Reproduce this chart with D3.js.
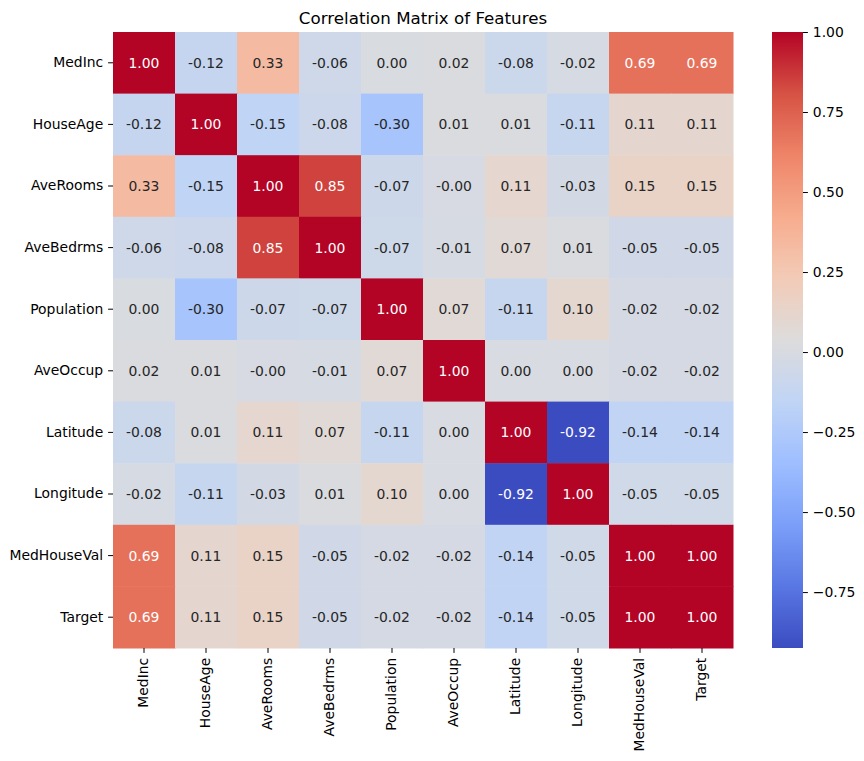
<!DOCTYPE html>
<html>
<head>
<meta charset="utf-8">
<script src="https://cdn.jsdelivr.net/npm/d3@7"></script>
<style>
  html, body { margin: 0; padding: 0; background: #fff; }
  svg { display: block; font-family: "DejaVu Sans", sans-serif; }
</style>
</head>
<body>
<svg id="chart" width="864" height="761"></svg>
<script>
// ---- data ----
const features = ["MedInc", "HouseAge", "AveRooms", "AveBedrms", "Population",
                  "AveOccup", "Latitude", "Longitude", "MedHouseVal", "Target"];
const rowMedInc      = [1.0000, -0.1190, 0.3269, -0.0620, 0.0048, 0.0188, -0.0798, -0.0152, 0.6881, 0.6881];
const rowHouseAge    = [-0.1190, 1.0000, -0.1533, -0.0777, -0.2962, 0.0132, 0.0112, -0.1082, 0.1056, 0.1056];
const rowAveRooms    = [0.3269, -0.1533, 1.0000, 0.8476, -0.0722, -0.0049, 0.1064, -0.0275, 0.1519, 0.1519];
const rowAveBedrms   = [-0.0620, -0.0777, 0.8476, 1.0000, -0.0662, -0.0062, 0.0697, 0.0133, -0.0467, -0.0467];
const rowPopulation  = [0.0048, -0.2962, -0.0722, -0.0662, 1.0000, 0.0699, -0.1088, 0.0998, -0.0246, -0.0246];
const rowAveOccup    = [0.0188, 0.0132, -0.0049, -0.0062, 0.0699, 1.0000, 0.0024, 0.0025, -0.0237, -0.0237];
const rowLatitude    = [-0.0798, 0.0112, 0.1064, 0.0697, -0.1088, 0.0024, 1.0000, -0.9247, -0.1442, -0.1442];
const rowLongitude   = [-0.0152, -0.1082, -0.0275, 0.0133, 0.0998, 0.0025, -0.9247, 1.0000, -0.0460, -0.0460];
const rowMedHouseVal = [0.6881, 0.1056, 0.1519, -0.0467, -0.0246, -0.0237, -0.1442, -0.0460, 1.0000, 1.0000];
const rowTarget      = [0.6881, 0.1056, 0.1519, -0.0467, -0.0246, -0.0237, -0.1442, -0.0460, 1.0000, 1.0000];
const matrix = [rowMedInc, rowHouseAge, rowAveRooms, rowAveBedrms, rowPopulation,
                rowAveOccup, rowLatitude, rowLongitude, rowMedHouseVal, rowTarget];
const colorbarTicks = [-0.75, -0.5, -0.25, 0, 0.25, 0.5, 0.75, 1.0];
const titleText = "Correlation Matrix of Features";

// coolwarm colormap stops (matplotlib, linspace 0..1, 11 stops)
const coolwarmStops = ['#3b4cc0', '#5977e3', '#7b9ff9', '#9ebeff', '#c0d4f5', '#dddcdc',
                       '#f2cbb7', '#f7ac8e', '#ee8468', '#d65244', '#b40426'];

// ---- layout ----
const svg = d3.select("#chart");
const hm = { x0: 113, x1: 733, y0: 32, y1: 648 };
const cb = { x0: 772, x1: 803 };

const flat = matrix.flat();
const vmin = d3.min(flat), vmax = d3.max(flat);

const cmap = d3.scaleLinear()
  .domain(d3.range(coolwarmStops.length).map(i => i / (coolwarmStops.length - 1)))
  .range(coolwarmStops)
  .interpolate(d3.interpolateRgb)
  .clamp(true);
const norm = d3.scaleLinear().domain([vmin, vmax]).range([0, 1]).clamp(true);
const color = v => cmap(norm(v));

const x = d3.scaleBand().domain(features).range([hm.x0, hm.x1]);
const y = d3.scaleBand().domain(features).range([hm.y0, hm.y1]);

function relLum(c) {
  const rgb = d3.rgb(c);
  const f = v => { v /= 255; return v <= 0.03928 ? v / 12.92 : Math.pow((v + 0.055) / 1.055, 2.4); };
  return 0.2126 * f(rgb.r) + 0.7152 * f(rgb.g) + 0.0722 * f(rgb.b);
}

const cells = [];
matrix.forEach((row, i) => row.forEach((v, j) => cells.push({ r: features[i], c: features[j], v })));

svg.append("g").selectAll("rect").data(cells).join("rect")
  .attr("x", d => x(d.c))
  .attr("y", d => y(d.r))
  .attr("width", x.bandwidth() + 0.5)
  .attr("height", y.bandwidth() + 0.5)
  .attr("fill", d => color(d.v));

svg.append("g").selectAll("text").data(cells).join("text")
  .attr("x", d => x(d.c) + x.bandwidth() / 2)
  .attr("y", d => y(d.r) + y.bandwidth() / 2)
  .attr("text-anchor", "middle")
  .attr("dominant-baseline", "central")
  .attr("font-size", "13.9px")
  .attr("fill", d => relLum(color(d.v)) > 0.408 ? "#262626" : "#ffffff")
  .text(d => d.v.toFixed(2));

// axes
const xAxis = svg.append("g")
  .attr("transform", `translate(0,${hm.y1})`)
  .call(d3.axisBottom(x).tickSize(4.9).tickPadding(4.9));
xAxis.select(".domain").remove();
xAxis.selectAll("line").attr("stroke", "#000").attr("stroke-width", 1);
xAxis.selectAll("text")
  .attr("font-size", "13.9px").attr("font-family", "DejaVu Sans, sans-serif").attr("fill", "#000")
  .attr("transform", "rotate(-90)")
  .attr("text-anchor", "end")
  .attr("x", -9.8).attr("y", 0).attr("dy", "0.32em");

const yAxis = svg.append("g")
  .attr("transform", `translate(${hm.x0},0)`)
  .call(d3.axisLeft(y).tickSize(4.9).tickPadding(4.9));
yAxis.select(".domain").remove();
yAxis.selectAll("line").attr("stroke", "#000").attr("stroke-width", 1);
yAxis.selectAll("text")
  .attr("font-size", "13.9px").attr("font-family", "DejaVu Sans, sans-serif").attr("fill", "#000");

// title
svg.append("text")
  .attr("x", (hm.x0 + hm.x1) / 2)
  .attr("y", 24)
  .attr("text-anchor", "middle")
  .attr("font-size", "16.7px")
  .attr("fill", "#000")
  .text(titleText);

// colorbar
const cbScale = d3.scaleLinear().domain([vmin, vmax]).range([hm.y1, hm.y0]);
const defs = svg.append("defs");
const grad = defs.append("linearGradient").attr("id", "cbgrad")
  .attr("x1", 0).attr("y1", 1).attr("x2", 0).attr("y2", 0);
d3.range(0, 1.0001, 0.02).forEach(t => {
  grad.append("stop").attr("offset", t).attr("stop-color", cmap(t));
});
svg.append("rect")
  .attr("x", cb.x0).attr("y", hm.y0)
  .attr("width", cb.x1 - cb.x0).attr("height", hm.y1 - hm.y0)
  .attr("fill", "url(#cbgrad)");

const cbAxis = svg.append("g")
  .attr("transform", `translate(${cb.x1},0)`)
  .call(d3.axisRight(cbScale).tickValues(colorbarTicks).tickSize(4.9).tickPadding(4.9)
        .tickFormat(d3.format(".2f")));
cbAxis.select(".domain").remove();
cbAxis.selectAll("line").attr("stroke", "#000");
cbAxis.selectAll("text")
  .attr("font-size", "13.9px").attr("font-family", "DejaVu Sans, sans-serif").attr("fill", "#000");
</script>
</body>
</html>
